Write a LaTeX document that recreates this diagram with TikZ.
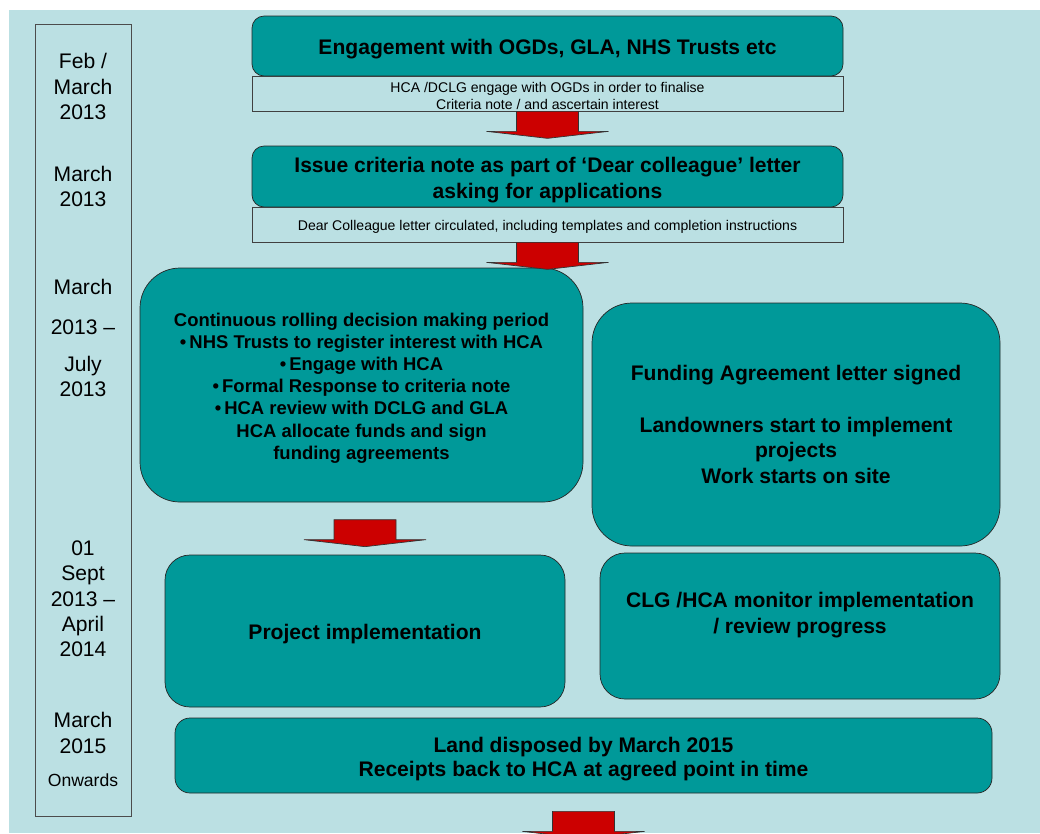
\documentclass[tikz,border=0pt]{standalone}
\usepackage{fontspec}
\setmainfont{Liberation Sans}
\usetikzlibrary{calc}
\newlength\px
\setlength\px{0.02cm}
\definecolor{bgblue}{HTML}{BBE0E3}
\definecolor{boxteal}{HTML}{009999}
\definecolor{arrred}{HTML}{CC0000}
\newcommand{\redarr}[1]{\draw[arr] (#1) ++(-31,0) -- ++(62,0) -- ++(0,20) -- ++(30,0) -- ++(-61,7) -- ++(-61,-7) -- ++(30,0) -- cycle;}
\newcommand{\toprule}{\rule{0pt}{1.05em}}

\begin{document}
\begin{tikzpicture}[x=0.02cm,y=-0.02cm,
  box/.style={draw=black!85,fill=boxteal,rounded corners=#1,align=center,inner sep=0pt,
    font=\fontsize{12}{14.7}\selectfont\bfseries},
  sub/.style={draw=black!75,fill=bgblue,align=center,inner sep=0pt,
    font=\fontsize{8}{9.6}\selectfont},
  yr/.style={align=center,inner sep=0pt,font=\fontsize{12}{14.4}\selectfont},
  arr/.style={draw=black!80,fill=arrred}]
  \useasboundingbox (0,0) rectangle (1040,833);
  \fill[white] (0,0) rectangle (1040,833);
  \fill[bgblue] (9,10) rectangle (1040,833);
  % time line
  \node[draw=black!70,minimum width=96\px,minimum height=792\px,inner sep=0pt] (line) at (83,420) {};
  \node[yr] (t1) at (83,86.5) {Feb /\\March\\2013};
  \node[yr] (t2) at (83,186.5) {March\\2013};
  \node[yr] (t3) at (83,338) {March\\[8.5pt]2013 –\\[6.8pt]July\\2013};
  \node[yr] (t4) at (83,599) {01\\Sept\\2013 –\\April\\2014};
  \node[yr] (t5) at (83,733) {March\\2015};
  \node[yr,font=\fontsize{10}{12}\selectfont] (t6) at (83,780) {Onwards};
  % boxes
  \node[box=12\px,minimum width=591\px,minimum height=60\px] (engage) at (547.5,46)
    {\toprule Engagement with OGDs, GLA, NHS Trusts etc};
  \node[sub,minimum width=591\px,minimum height=35\px] (engnote) at (547.5,93.5)
    {\toprule HCA /DCLG engage with OGDs in order to finalise\\Criteria note / and ascertain interest};
  \node[box=12\px,minimum width=591\px,minimum height=61\px] (issue) at (547.5,176.5)
    {\toprule Issue criteria note as part of ‘Dear colleague’ letter\\asking for applications};
  \node[sub,minimum width=591\px,minimum height=35\px] (letter) at (547.5,224.5)
    {\toprule Dear Colleague letter circulated, including templates and completion instructions};
  \node[box=40\px,minimum width=443\px,minimum height=234\px,
    font=\fontsize{10.5}{12.6}\selectfont\bfseries] (rolling) at (361.5,385)
    {\toprule Continuous rolling decision making period\\•\,NHS Trusts to register interest with HCA\\
     •\,Engage with HCA\\•\,Formal Response to criteria note\\•\,HCA review with DCLG and GLA\\
     HCA allocate funds and sign\\funding agreements};
  \node[box=40\px,minimum width=408\px,minimum height=243\px] (funding) at (796,424.5)
    {Funding Agreement letter signed\\[14.7pt]Landowners start to implement\\projects\\Work starts on site};
  \node[box=25\px,minimum width=400\px,minimum height=152\px] (project) at (365,631)
    {\toprule Project implementation};
  \node[box=25\px,minimum width=400\px,minimum height=146\px] (monitor) at (800,626)
    {CLG /HCA monitor implementation\\/ review progress\\\mbox{}};
  \node[box=15\px,minimum width=817\px,minimum height=75\px,
    font=\fontsize{12}{13.6}\selectfont\bfseries] (land) at (583.5,755.5)
    {\toprule Land disposed by March 2015\\Receipts back to HCA at agreed point in time};
  % arrows
  \coordinate (a3) at ($(project.north)+(0,-35)$);
  \coordinate (a4) at ($(land.south)+(0,18)$);
  \redarr{engnote.south}
  \redarr{letter.south}
  \redarr{a3}
  \redarr{a4}
\end{tikzpicture}
\end{document}
